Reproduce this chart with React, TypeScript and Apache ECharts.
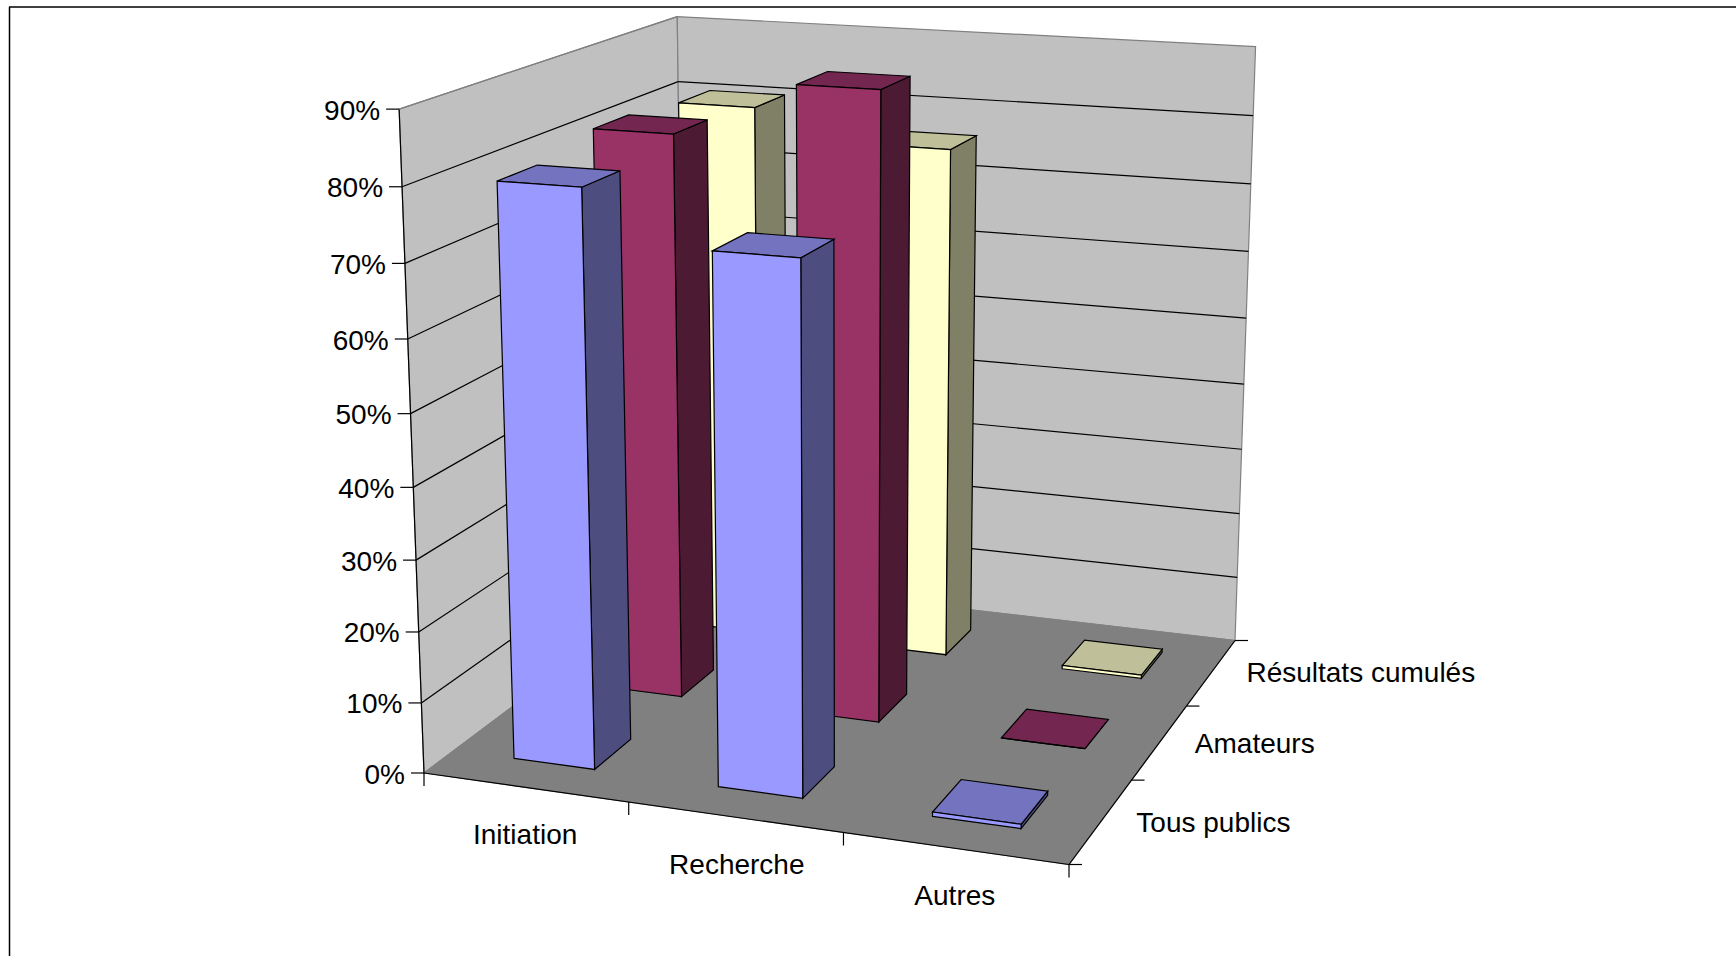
import React, { useEffect, useRef } from "react";
import * as echarts from "echarts";

const categories = ["Initiation", "Recherche", "Autres"];
const seriesNames = ["Tous publics", "Amateurs", "Résultats cumulés"];
const tousPublics = [79.7, 72.7, 0.6];
const amateurs = [81.6, 89.4, 0];
const resultatsCumules = [80.5, 76.2, 0.5];
const yTicks = [0, 10, 20, 30, 40, 50, 60, 70, 80, 90];

const W = 1736, H = 956;
// Projection of the chart box: floor corners, and the vertical vanishing point
const FL = [424, 773], FR = [1069, 864.5], BR = [1235, 640.5], BL = [685, 577];
const VP = [842.9, 11964], ALPHA = -0.056;
const BAR_W = 0.4, BAR_D = 0.4;
const FONT = "'Liberation Sans', Arial, sans-serif";
const FS = 28;
const PALETTE = [
  { front: "#9999FF", side: "#4D4D80", top: "#7373BF" },
  { front: "#993366", side: "#4D1A33", top: "#732650" },
  { front: "#FFFFCC", side: "#808066", top: "#BFBF99" },
];

const dx1 = FR[0] - BR[0], dx2 = BL[0] - BR[0], sx = FL[0] - FR[0] + BR[0] - BL[0];
const dy1 = FR[1] - BR[1], dy2 = BL[1] - BR[1], sy = FL[1] - FR[1] + BR[1] - BL[1];
const den = dx1 * dy2 - dy1 * dx2;
const g = (sx * dy2 - dx2 * sy) / den, h2 = (dx1 * sy - sx * dy1) / den;
const a = FR[0] - FL[0] + g * FR[0], b = BL[0] - FL[0] + h2 * BL[0], c = FL[0];
const d2 = FR[1] - FL[1] + g * FR[1], e = BL[1] - FL[1] + h2 * BL[1], f = FL[1];

// u: along the categories 0..1, v: along the series 0..1, t: height 0..1
function project(u: number, v: number, t: number): number[] {
  const w = g * u + h2 * v + 1 + t * ALPHA;
  return [
    (a * u + b * v + c + t * ALPHA * VP[0]) / w,
    (d2 * u + e * v + f + t * ALPHA * VP[1]) / w,
  ];
}

// hidden grid: its axes provide the scales (category position, percentage)
const GRID = { left: 0, top: 0, width: 1000, height: 900 };
function scaled(api: any, catPos: number, value: number) {
  const p = api.coord([catPos, value]);
  return { u: (p[0] - GRID.left) / GRID.width, t: 1 - (p[1] - GRID.top) / GRID.height };
}

const line = (p: number[], q: number[], stroke = "#000", lineWidth = 1.2) => ({
  type: "line",
  shape: { x1: p[0], y1: p[1], x2: q[0], y2: q[1] },
  style: { stroke, lineWidth, fill: "none" },
});
const poly = (pts: number[][], fill: string, stroke = "#000", lineWidth = 1.2) => ({
  type: "polygon",
  shape: { points: pts },
  style: { fill, stroke, lineWidth, lineJoin: "miter" },
});
const label = (text: string, x: number, y: number, align: string) => ({
  type: "text",
  x,
  y,
  style: { text, fill: "#000", font: `${FS}px ${FONT}`, align, verticalAlign: "middle" },
});

function renderFrame(_: any, api: any) {
  const kids: any[] = [];
  const at = (cat: number, v: number, val: number) => {
    const s = scaled(api, cat, val);
    return project(s.u, v, s.t);
  };
  const tmax = yTicks[yTicks.length - 1];
  const n = categories.length;
  const gray = "#808080";
  // walls and floor
  kids.push(poly([at(0, 0, 0), at(0, 1, 0), at(0, 1, tmax), at(0, 0, tmax)], "#C0C0C0", gray));
  kids.push(poly([at(0, 1, 0), at(n, 1, 0), at(n, 1, tmax), at(0, 1, tmax)], "#C0C0C0", gray));
  kids.push(poly([at(0, 0, 0), at(n, 0, 0), at(n, 1, 0), at(0, 1, 0)], "#808080", gray));
  // gridlines
  yTicks.slice(1, -1).forEach((t) => {
    kids.push(line(at(0, 0, t), at(0, 1, t)));
    kids.push(line(at(0, 1, t), at(n, 1, t)));
  });
  // axes
  kids.push(line(at(0, 0, 0), at(0, 0, tmax)));
  kids.push(line(at(0, 0, 0), at(n, 0, 0)));
  kids.push(line(at(n, 0, 0), at(n, 1, 0)));
  kids.push(line(at(0, 0, tmax), at(0, 1, tmax), gray));
  // value ticks & labels
  yTicks.forEach((t) => {
    const p = at(0, 0, t);
    kids.push(line([p[0] - 13, p[1]], p));
    kids.push(label(`${t}%`, p[0] - 19, p[1] + 1, "right"));
  });
  // category ticks & labels
  for (let i = 0; i <= n; i++) {
    const p = at(i, 0, 0);
    kids.push(line(p, [p[0], p[1] + 13]));
  }
  categories.forEach((name, i) => {
    const p = at(i + 0.5, 0, 0);
    kids.push(label(name, p[0] + (i === 1 ? 2 : 0), p[1] + 47, "center"));
  });
  // series ticks & labels
  for (let j = 0; j <= seriesNames.length; j++) {
    const p = at(n, j / seriesNames.length, 0);
    kids.push(line(p, [p[0] + 13, p[1]]));
  }
  seriesNames.forEach((name, j) => {
    const p = at(n, (j + 0.5) / seriesNames.length, 0);
    kids.push(label(name, p[0] + 35, p[1] + (j === 2 ? 0.5 : 2), "left"));
  });
  return { type: "group", children: kids };
}

function barRenderer(row: number) {
  return (_: any, api: any) => {
    const cat = api.value(0);
    const val = api.value(1);
    const cols = PALETTE[row];
    const nS = seriesNames.length;
    const u0 = cat + 0.5 - BAR_W / 2, u1 = cat + 0.5 + BAR_W / 2;
    const v0 = (row + 0.5 - BAR_D / 2) / nS, v1 = (row + 0.5 + BAR_D / 2) / nS;
    const pt = (cu: number, v: number, y: number) => {
      const s = scaled(api, cu, y);
      return project(s.u, v, s.t);
    };
    return {
      type: "group",
      children: [
        poly([pt(u1, v0, 0), pt(u1, v1, 0), pt(u1, v1, val), pt(u1, v0, val)], cols.side),
        poly([pt(u0, v0, val), pt(u1, v0, val), pt(u1, v1, val), pt(u0, v1, val)], cols.top),
        poly([pt(u0, v0, 0), pt(u1, v0, 0), pt(u1, v0, val), pt(u0, v0, val)], cols.front),
      ],
    };
  };
}

export default function App() {
  const ref = useRef<HTMLDivElement>(null);
  useEffect(() => {
    const chart = echarts.init(ref.current!, undefined, { renderer: "svg" });
    const rows = [resultatsCumules, amateurs, tousPublics];
    const rowIdx = [2, 1, 0];
    chart.setOption({
      animation: false,
      backgroundColor: "#fff",
      grid: { ...GRID, containLabel: false },
      xAxis: { type: "value", min: 0, max: categories.length, show: false },
      yAxis: { type: "value", min: 0, max: 90, interval: 10, show: false },
      graphic: [
        { type: "line", z: 100, shape: { x1: 9.5, y1: 7, x2: 9.5, y2: H }, style: { stroke: "#000", lineWidth: 1.5 } },
        { type: "line", z: 100, shape: { x1: 9, y1: 7, x2: W, y2: 7 }, style: { stroke: "#000", lineWidth: 1.5 } },
      ],
      series: [
        {
          type: "custom",
          name: "frame",
          coordinateSystem: "cartesian2d",
          clip: false,
          silent: true,
          data: [[0, 0]],
          renderItem: renderFrame,
          z: 1,
        },
        ...rows.map((vals, k) => ({
          type: "custom",
          name: seriesNames[rowIdx[k]],
          coordinateSystem: "cartesian2d",
          clip: false,
          silent: true,
          data: vals.map((v, i) => [i, v]),
          encode: { x: 0, y: 1 },
          renderItem: barRenderer(rowIdx[k]),
          z: 2 + k,
        })),
      ],
    });
    return () => chart.dispose();
  }, []);
  return (
    <div
      ref={ref}
      style={{ position: "fixed", left: 0, top: 0, width: W, height: H }}
    />
  );
}
